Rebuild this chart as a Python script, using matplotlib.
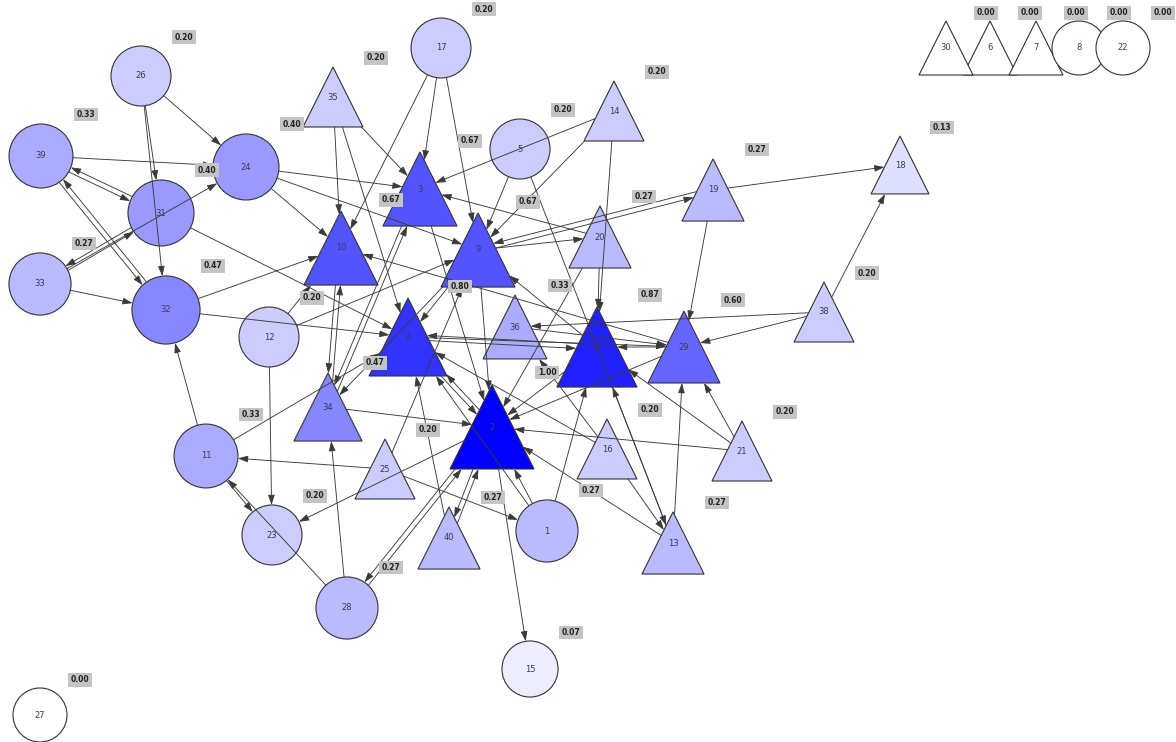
import numpy as np
import matplotlib
matplotlib.use("Agg")
import matplotlib.pyplot as plt
from matplotlib.patches import Circle, Polygon, FancyArrowPatch

# nodes: id, layout position (pixel space), shape, score
node_ids = [1, 2, 3, 4, 5, 6, 7, 8, 9, 10,
            11, 12, 13, 14, 15, 16, 17, 18, 19, 20,
            21, 22, 23, 24, 25, 26, 27, 28, 29, 30,
            31, 32, 33, 34, 35, 36, 37, 38, 39, 40]
node_x = [547, 492, 420, 408, 520, 990, 1036, 1079, 478, 341,
          206, 269, 673, 614, 530, 607, 441, 900, 713, 600,
          742, 1123, 272, 246, 385, 141, 40, 347, 684, 946,
          161, 166, 40, 328, 333, 515, 597, 824, 41, 449]
node_y = [531, 427, 189, 337, 149, 48, 48, 48, 250, 248,
          456, 337, 543, 111, 669, 449, 48, 165, 190, 237,
          451, 48, 535, 167, 469, 76, 715, 608, 347, 48,
          213, 310, 284, 407, 97, 327, 347, 312, 156, 538]
node_shape = ['o', '^', '^', '^', 'o', '^', '^', 'o', '^', '^',
              'o', 'o', '^', '^', 'o', '^', 'o', '^', '^', '^',
              '^', 'o', 'o', 'o', '^', 'o', 'o', 'o', '^', '^',
              'o', 'o', 'o', '^', '^', '^', '^', '^', 'o', '^']
node_value = [0.27, 1.00, 0.67, 0.80, 0.20, 0.00, 0.00, 0.00, 0.67, 0.67,
              0.33, 0.20, 0.27, 0.20, 0.07, 0.20, 0.20, 0.13, 0.27, 0.27,
              0.20, 0.00, 0.20, 0.40, 0.20, 0.20, 0.00, 0.27, 0.60, 0.00,
              0.40, 0.47, 0.27, 0.47, 0.20, 0.33, 0.87, 0.20, 0.33, 0.27]

# directed edges
edge_src = [26, 26, 26, 39, 39, 31, 39, 32, 33, 31, 33, 33, 31, 32, 32, 12, 12, 12,
            11, 11, 11, 28, 24, 24, 24, 25, 25, 28, 28, 2, 40, 2, 1, 2, 1, 40,
            35, 35, 35, 17, 17, 17, 14, 14, 14, 20, 5, 9, 5, 20, 9, 19, 9, 29,
            37, 19, 38, 19, 38, 38, 21, 21, 21, 13, 13, 13, 16, 16, 16, 4, 37,
            4, 36, 29, 4, 2, 9, 3, 34, 10, 34, 3, 34, 25, 37, 20, 29, 2, 1, 9]
edge_dst = [24, 31, 32, 24, 31, 39, 32, 39, 31, 33, 24, 32, 4, 10, 4, 10, 9, 23,
            32, 4, 23, 11, 3, 9, 10, 11, 1, 34, 2, 28, 2, 40, 2, 15, 37, 4,
            3, 10, 4, 3, 10, 9, 3, 9, 37, 37, 9, 4, 13, 3, 19, 9, 20, 10,
            9, 18, 18, 29, 29, 36, 29, 37, 2, 29, 37, 2, 13, 4, 36, 37, 4,
            29, 29, 37, 2, 4, 2, 2, 10, 34, 3, 34, 2, 9, 2, 2, 2, 23, 4, 34]

fig = plt.figure(figsize=(11.76, 7.42), dpi=100)
ax = fig.add_axes([0, 0, 1, 1])
ax.set_xlim(0, 1176)
ax.set_ylim(742, 0)
ax.axis('off')

nodes = {}
for i, n in enumerate(node_ids):
    s = 54 + 30 * node_value[i]
    nodes[n] = (node_x[i], node_y[i], node_shape[i], s, node_value[i])


def tri_pts(cx, cy, s):
    return np.array([[cx - s / 2, cy + s / 2], [cx + s / 2, cy + s / 2], [cx, cy - s / 2]])


def exit_point(n, p, q):
    # where the ray p -> q leaves node n
    cx, cy, shp, s, v = nodes[n]
    p = np.array(p, float)
    d = np.array(q, float) - p
    d /= np.hypot(*d)
    if shp == 'o':
        r = s / 2
        f = p - np.array([cx, cy])
        b = np.dot(f, d)
        c = np.dot(f, f) - r * r
        t = -b + np.sqrt(max(b * b - c, 0))
        return p + t * d
    pts = tri_pts(cx, cy, s)
    best = None
    for k in range(3):
        a, b2 = pts[k], pts[(k + 1) % 3]
        e = b2 - a
        m = np.array([[d[0], -e[0]], [d[1], -e[1]]])
        if abs(np.linalg.det(m)) < 1e-9:
            continue
        t, u = np.linalg.solve(m, a - p)
        if t > 0 and -1e-6 <= u <= 1 + 1e-6:
            if best is None or t < best:
                best = t
    return p + best * d


# nodes
for n, (cx, cy, shp, s, v) in nodes.items():
    col = (1 - v, 1 - v, 1.0)
    if shp == 'o':
        patch = Circle((cx, cy), s / 2, facecolor=col, edgecolor='#333333', lw=0.8, zorder=1)
    else:
        patch = Polygon(tri_pts(cx, cy, s), closed=True, facecolor=col,
                        edgecolor='#333333', lw=0.8, zorder=1)
    ax.add_patch(patch)
    ax.text(cx, cy, str(n), ha='center', va='center', fontsize=6,
            color='#3a3a5a', zorder=3)
    ax.text(cx + 0.5 * s + 13, cy - 0.65 * s, f"{v:.2f}", ha='center', va='center',
            fontsize=5.5, fontweight='bold', color='#222222', zorder=4,
            bbox=dict(boxstyle='square,pad=0.3', facecolor='#c4c4c4', edgecolor='none'))

# edges
pairs = set(zip(edge_src, edge_dst))
for a, b in zip(edge_src, edge_dst):
    ax_, ay_ = nodes[a][0], nodes[a][1]
    bx_, by_ = nodes[b][0], nodes[b][1]
    off = 0.0
    if (b, a) in pairs:
        off = 2.5
    d = np.array([bx_ - ax_, by_ - ay_], float)
    d /= np.hypot(*d)
    nrm = np.array([-d[1], d[0]]) * off
    pa = np.array([ax_, ay_]) + nrm
    pb = np.array([bx_, by_]) + nrm
    start = exit_point(a, pa, pb)
    end = exit_point(b, pb, pa)
    arr = FancyArrowPatch(start, end, arrowstyle='-|>,head_length=0.6,head_width=0.2',
                          mutation_scale=10, color='#3a3a3a', lw=0.65,
                          shrinkA=0, shrinkB=0, zorder=2)
    ax.add_patch(arr)

fig.savefig("out.png", dpi=100, facecolor='white')
